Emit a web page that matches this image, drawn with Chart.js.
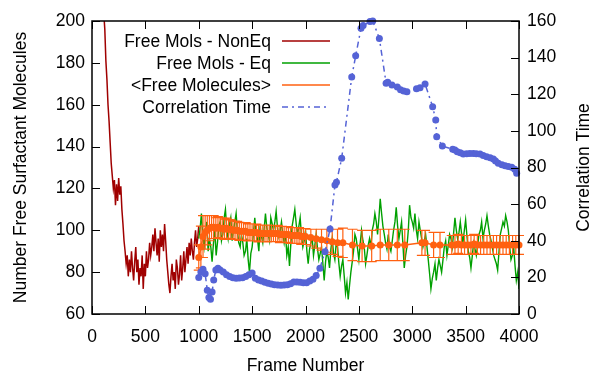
<!DOCTYPE html>
<html>
<head>
<meta charset="utf-8">
<script src="https://cdn.jsdelivr.net/npm/chart.js@4.4.1/dist/chart.umd.min.js"></script>
<style>
  body { margin: 0; background: #fff; }
</style>
</head>
<body>
<canvas id="line-chart" width="595" height="377"></canvas>
<script>
// Free surfactant molecules, non-equilibrated part of the run
const nonEqFrames = [100,110,120,130,140,150,160,170,180,190,200,210,220,230,240,250,260,270,280,290,
  300,310,320,330,340,350,360,370,380,390,400,410,420,430,440,450,460,470,480,490,
  500,510,520,530,540,550,560,570,580,590,600,610,620,630,640,650,660,670,680,690,
  700,710,720,730,740,750,760,770,780,790,800,810,820,830,840,850,860,870,880,890,
  900,910,920,930,940,950,960,970,980,990,1000];
const nonEqValues = [212,204,196,181,172,160,152,142,132,126,120,124,112,122,114,125,117,121,110,103,
  95,90,84,88,78,86,80,90,82,76,85,92,80,86,74,82,78,88,72,84,
  78,90,82,86,94,88,92,98,90,101,94,88,96,85,100,92,98,90,103,95,
  86,80,74,70,78,84,76,80,72,86,82,74,79,88,76,82,90,80,86,92,
  84,94,88,96,90,86,94,100,92,96,102];

// equilibrated part
const eqFrames = [1000,1013,1025,1038,1050,1063,1075,1088,1100,1113,1125,1138,1150,1163,1175,1188,
  1200,1213,1225,1238,1250,1263,1275,1288,1300,1313,1325,1338,1350,1363,1375,1388,
  1400,1413,1425,1438,1450,1463,1475,1488,1500,1513,1525,1538,1550,1563,1575,1588,
  1600,1613,1625,1638,1650,1663,1675,1688,1700,1713,1725,1738,1750,1763,1775,1788,
  1800,1813,1825,1838,1850,1863,1875,1888,1900,1913,1925,1938,1950,1963,1975,1988,
  2000,2013,2025,2038,2050,2063,2075,2088,2100,2113,2125,2138,2150,2163,2175,2188,
  2200,2213,2225,2238,2250,2263,2275,2288,2300,2313,2325,2338,2350,2363,2375,2388,
  2400,2413,2425,2438,2450,2463,2475,2488,2500,2513,2525,2538,2550,2563,2575,2588,
  2600,2613,2625,2638,2650,2663,2675,2688,2700,2713,2725,2738,2750,2763,2775,2788,
  2800,2813,2825,2838,2850,2863,2875,2888,2900,2913,2925,2938,2950,2963,2975,2988,
  3000,3013,3025,3038,3050,3063,3075,3088,3100,3113,3125,3138,3150,3163,3175,3188,
  3200,3213,3225,3238,3250,3263,3275,3288,3300,3313,3325,3338,3350,3363,3375,3388,
  3400,3413,3425,3438,3450,3463,3475,3488,3500,3513,3525,3538,3550,3563,3575,3588,
  3600,3613,3625,3638,3650,3663,3675,3688,3700,3713,3725,3738,3750,3763,3775,3788,
  3800,3813,3825,3838,3850,3863,3875,3888,3900,3913,3925,3938,3950,3963,3975,3988,4000];
const eqValues = [96,101,108,97,92,99,104,90,96,92,85,94,100,88,94,102,104,95,98,106,
  110,100,96,103,106,95,100,104,108,99,94,92,98,94,88,90,96,86,80,89,
  92,99,106,98,96,90,102,97,94,101,108,101,98,95,106,103,100,104,109,101,
  97,100,104,98,94,99,88,92,83,94,102,106,110,103,98,102,106,97,92,95,
  100,90,84,91,94,96,88,93,98,91,86,89,92,84,76,85,90,87,82,91,
  96,89,86,94,92,84,78,83,86,78,70,75,67,74,80,85,90,98,96,91,
  86,94,100,95,92,84,88,93,96,92,100,103,108,104,98,106,115,108,102,98,
  94,91,98,92,90,95,100,104,111,102,96,100,104,93,82,88,92,100,112,106,
  104,101,108,100,96,104,100,96,92,95,98,92,86,79,72,77,80,84,76,82,
  86,83,80,86,92,95,88,93,98,96,92,99,106,100,96,99,104,98,94,100,
  105,97,90,87,82,88,94,91,88,93,98,100,104,96,100,103,107,102,98,95,
  92,88,86,84,81,90,98,101,104,102,107,104,100,92,86,88,92,83,76,80,72];

// running average with error bars
const avgFrames = [1000,1020,1040,1060,1080,1100,1120,1140,1160,1180,1200,1220,1240,1260,1280,1300,1320,1340,1360,1380,
  1400,1420,1440,1460,1480,1500,1520,1540,1560,1580,1600,1620,1640,1660,1680,1700,1720,1740,1760,1780,
  1800,1820,1840,1860,1880,1900,1920,1940,1960,1980,2000,2050,2100,2150,2200,2250,2300,2350,
  2440,2530,2620,2700,2780,2860,2930,3090,3120,3200,3260,
  3370,3400,3430,3460,3490,3520,3550,3580,3610,3640,3670,3700,3730,3760,3790,3820,3850,3880,3910,3940,3970,4000];
const avgValues = [87,92,97,99,100,101,101.5,101.5,101,101.5,101,101,100.5,101,100.5,100.5,100,100,100,99.5,
  99.5,99.5,99.5,99,99,99,99,99,98.5,98.5,98.5,98.5,98.5,98.5,98.5,98.5,98.5,98.5,98,98,
  98,98,98,97.5,97.5,97.5,97.5,97.5,97,97,97,96.5,96,95.5,95,94.5,94,94,
  93,92.5,92.5,93,93,93,93,94,94,93,93,
  93,93,93.5,93,93,93,93,93.5,93,93,93,93,93,93,93,93,93,93,93,93,93,93];
const avgErrors = [6,10,10,8,7,6,5.5,5.5,5,5,5,5,4.8,4.8,4.6,4.5,4.4,4.4,4.3,4.3,
  4.2,4.2,4.2,4.1,4.1,4,4,4,4,4,4,4,4,3.9,3.9,3.9,3.9,3.9,3.9,3.9,
  3.8,3.8,3.8,3.8,3.8,3.8,3.8,3.8,3.8,3.8,3.8,4,4.5,5,5.5,6,6.5,7,
  7.5,7.5,7.5,7.5,7.5,7.5,7.5,6,6,6,6,
  4.5,4.5,4.5,4.5,4.5,4.5,4.5,4.5,4.5,4.5,4.5,4.5,4.5,4.5,4.5,4.5,4.5,4.5,4.5,4.5,4.5,4.5];

// correlation time (right axis)
const corrFrames = [1000,1020,1040,1060,1080,1095,1110,1125,1140,1160,1180,1200,1230,1260,1290,1320,1350,1380,1410,1440,
  1470,1500,1530,1560,1590,1620,1650,1680,1710,1740,1770,1800,1830,1860,1890,1920,1950,1980,2010,2040,
  2070,2100,2135,2183,2230,2276,2290,2339,2433,2470,2520,2540,2604,2630,2692,2755,2770,2810,2860,2890,
  2920,2950,3040,3073,3120,3191,3220,3229,3282,3379,3400,3422,3450,3478,3510,3540,3572,3600,3635,3665,
  3697,3730,3760,3780,3806,3840,3870,3900,3932,3960,3978];
const corrValues = [20,23,24.5,22,13,9,8,12,18.6,24,25,24,23,21.5,20.5,19.8,19.5,19.6,19.8,20.5,
  21.5,22.4,19.5,18.5,18,17.3,16.8,16.4,16,15.8,15.7,15.8,16,16.5,17.5,17.5,17.3,17,17,18,
  19,21,25,34,46.4,70.5,72,85,129.4,141,156,157.5,159.7,160,150.5,126,126.5,125,124,122.5,
  121.8,121.4,123,123.6,125.6,113.2,106,96.8,91.7,90,89.5,88.6,88,87.4,87.5,87.6,87.7,87.5,87.4,86.5,
  85.9,85.3,84.6,83.5,82.3,81.5,81,80.5,80.1,79,76.8];

const xTickValues = [0,500,1000,1500,2000,2500,3000,3500,4000];
const yTickValues = [60,80,100,120,140,160,180,200];
const y2TickValues = [0,20,40,60,80,100,120,140,160];

const seriesLabels = ["Free Mols - NonEq", "Free Mols - Eq", "<Free Molecules>", "Correlation Time"];
const seriesColors = ['#a00000', '#00a000', '#ff6010', '#5563d6'];
const xTitle = "Frame Number";
const yTitle = "Number Free Surfactant Molecules";
const y2Title = "Correlation Time";

const FONT = '"Liberation Sans", Arial, sans-serif';
const FSIZE = 17.5;

function pairs(xs, ys) {
  return xs.map(function (x, i) { return { x: x, y: ys[i] }; });
}

function fixedTicks(values) {
  return function (s) { s.ticks = values.map(function (v) { return { value: v }; }); };
}

function plainLabel(v) { return String(v); }

// gnuplot style: ticks pointing inwards, full frame on top
const frameTicks = {
  id: 'frameTicks',
  afterDatasetsDraw(chart) {
    const ctx = chart.ctx, a = chart.chartArea;
    const sx = chart.scales.x, sy = chart.scales.y, sy2 = chart.scales.y2;
    ctx.save();
    ctx.strokeStyle = '#000';
    ctx.lineWidth = 1;
    ctx.beginPath();
    sx.ticks.forEach(function (t) {
      const p = Math.round(sx.getPixelForValue(t.value)) + 0.5;
      ctx.moveTo(p, a.bottom); ctx.lineTo(p, a.bottom - 8);
      ctx.moveTo(p, a.top); ctx.lineTo(p, a.top + 8);
    });
    sy.ticks.forEach(function (t) {
      const p = Math.round(sy.getPixelForValue(t.value)) + 0.5;
      ctx.moveTo(a.left, p); ctx.lineTo(a.left + 8, p);
    });
    sy2.ticks.forEach(function (t) {
      const p = Math.round(sy2.getPixelForValue(t.value)) + 0.5;
      ctx.moveTo(a.right, p); ctx.lineTo(a.right - 8, p);
    });
    ctx.stroke();
    ctx.lineWidth = 1.5;
    ctx.strokeRect(a.left, a.top, a.right - a.left, a.bottom - a.top);
    ctx.restore();
  }
};

const errorBars = {
  id: 'errorBars',
  beforeDatasetDraw(chart, args) {
    if (args.index !== 2) return;
    const ctx = chart.ctx, sx = chart.scales.x, sy = chart.scales.y;
    ctx.save();
    ctx.strokeStyle = seriesColors[2];
    ctx.lineWidth = 1.2;
    ctx.beginPath();
    avgFrames.forEach(function (f, i) {
      const px = sx.getPixelForValue(f);
      const top = sy.getPixelForValue(avgValues[i] + avgErrors[i]);
      const bot = sy.getPixelForValue(avgValues[i] - avgErrors[i]);
      ctx.moveTo(px, top); ctx.lineTo(px, bot);
      ctx.moveTo(px - 5, top); ctx.lineTo(px + 5, top);
      ctx.moveTo(px - 5, bot); ctx.lineTo(px + 5, bot);
    });
    ctx.stroke();
    ctx.restore();
  }
};

// key inside the plot, text right-aligned with the sample on its right
const keyBox = {
  id: 'keyBox',
  afterDraw(chart) {
    const ctx = chart.ctx, a = chart.chartArea;
    ctx.save();
    ctx.font = FSIZE + 'px ' + FONT;
    ctx.textAlign = 'right';
    ctx.textBaseline = 'middle';
    chart.data.datasets.forEach(function (ds, i) {
      const y = a.top + 20 + i * 22;
      ctx.fillStyle = '#000';
      ctx.fillText(ds.label, a.left + 179, y + 1);
      ctx.strokeStyle = ds.borderColor;
      ctx.lineWidth = 1.5;
      ctx.setLineDash(ds.borderDash || []);
      ctx.beginPath();
      ctx.moveTo(a.left + 190, y);
      ctx.lineTo(a.left + 238, y);
      ctx.stroke();
    });
    ctx.restore();
  }
};

// y2 label read bottom to top, like the left one
const rightTitle = {
  id: 'rightTitle',
  afterDraw(chart) {
    const ctx = chart.ctx, s = chart.scales.y2, a = chart.chartArea;
    ctx.save();
    ctx.translate(s.right - 10.5, (a.top + a.bottom) / 2);
    ctx.rotate(-Math.PI / 2);
    ctx.font = FSIZE + 'px ' + FONT;
    ctx.fillStyle = '#000';
    ctx.textAlign = 'center';
    ctx.textBaseline = 'middle';
    ctx.fillText(y2Title, 0, 0);
    ctx.restore();
  }
};

Chart.defaults.font.family = FONT;
Chart.defaults.font.size = FSIZE;
Chart.defaults.color = '#000';

new Chart(document.getElementById("line-chart"), {
  type: 'line',
  data: {
    datasets: [
      {
        label: seriesLabels[0],
        data: pairs(nonEqFrames, nonEqValues),
        borderColor: seriesColors[0],
        borderWidth: 1.5,
        pointRadius: 0,
        yAxisID: 'y',
        order: 4
      },
      {
        label: seriesLabels[1],
        data: pairs(eqFrames, eqValues),
        borderColor: seriesColors[1],
        borderWidth: 1.4,
        pointRadius: 0,
        yAxisID: 'y',
        order: 3
      },
      {
        label: seriesLabels[2],
        data: pairs(avgFrames, avgValues),
        borderColor: seriesColors[2],
        backgroundColor: seriesColors[2],
        borderWidth: 1.5,
        pointRadius: 3.5,
        pointBorderWidth: 0,
        pointBackgroundColor: seriesColors[2],
        yAxisID: 'y',
        clip: false,
        order: 2
      },
      {
        label: seriesLabels[3],
        data: pairs(corrFrames, corrValues),
        borderColor: seriesColors[3],
        backgroundColor: seriesColors[3],
        borderWidth: 1.5,
        borderDash: [6, 4, 2, 4],
        pointRadius: 3.5,
        pointBorderWidth: 0,
        pointBackgroundColor: seriesColors[3],
        yAxisID: 'y2',
        clip: false,
        order: 1
      }
    ]
  },
  options: {
    responsive: false,
    animation: false,
    layout: { padding: { top: 21, left: 0, right: 0, bottom: 0 } },
    plugins: {
      legend: { display: false },
      tooltip: { enabled: false }
    },
    scales: {
      x: {
        type: 'linear',
        min: 0, max: 4000,
        afterBuildTicks: fixedTicks(xTickValues),
        afterFit: function (s) { s.height = 63; },
        ticks: { padding: 13, maxRotation: 0, autoSkip: false, callback: plainLabel },
        grid: { display: false, drawTicks: false },
        border: { display: false },
        title: { display: true, text: xTitle, padding: { top: 0, bottom: 0 } }
      },
      y: {
        position: 'left',
        min: 60, max: 200,
        afterBuildTicks: fixedTicks(yTickValues),
        afterFit: function (s) { s.width = 92; },
        ticks: { padding: 7, callback: plainLabel },
        grid: { display: false, drawTicks: false },
        border: { display: false },
        title: { display: true, text: yTitle, padding: { top: 10.5, bottom: 0 } }
      },
      y2: {
        position: 'right',
        min: 0, max: 160,
        afterBuildTicks: fixedTicks(y2TickValues),
        afterFit: function (s) { s.width = 76; },
        ticks: { padding: 8, callback: plainLabel },
        grid: { display: false, drawTicks: false },
        border: { display: false }
      }
    }
  },
  plugins: [errorBars, frameTicks, keyBox, rightTitle]
});
</script>
</body>
</html>
